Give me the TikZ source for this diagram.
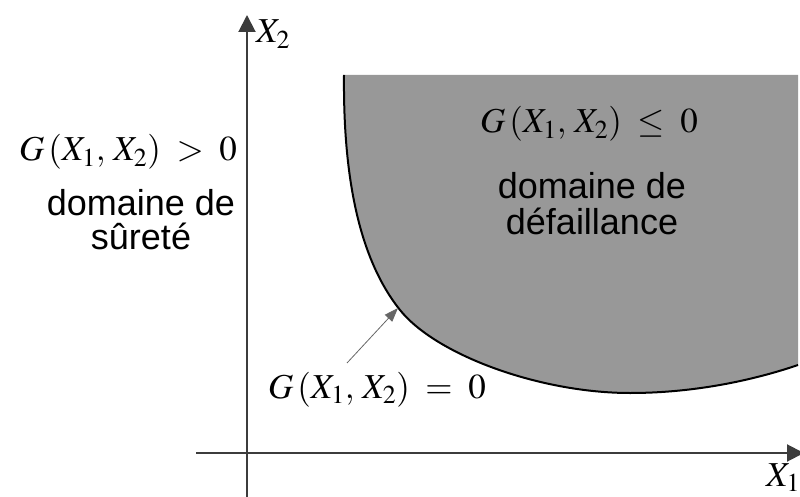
\documentclass[tikz,border=0pt]{standalone}
\usepackage{fontspec}
\usepackage{mathptmx}
\newfontfamily\arialfont{Liberation Sans}
\usetikzlibrary{arrows.meta}
\definecolor{fail}{RGB}{152,152,152}
\definecolor{axis}{RGB}{60,60,60}
\tikzset{
  mathlbl/.style={inner sep=0pt, font=\fontsize{35}{38}\selectfont},
  sanslbl/.style={inner sep=0pt, align=center},
  axisline/.style={draw=axis, line width=2pt},
  bigtip/.style={-{Triangle[length=17pt,width=17pt]}},
}
\newcommand{\limitcurve}{(344,75) .. controls (343,180) and (360,260) .. (400,310) .. controls (436,355) and (540,393) .. (630,393) .. controls (700,393) and (760,378) .. (798,365)}
\begin{document}
\begin{tikzpicture}[x=1pt,y=-1pt]
\useasboundingbox (0,0) rectangle (800,497);
% failure domain
\fill[fail] \limitcurve -- (798,75) -- cycle;
\draw[black, line width=2pt] \limitcurve;
% axes
\coordinate (yb) at (247,497);
\coordinate (yt) at (247,15);
\coordinate (xl) at (196,453);
\coordinate (xr) at (804,453);
\draw[axisline, bigtip] (yb) -- (yt);
\draw[axisline, bigtip] (xl) -- (xr);
\node[mathlbl, anchor=base west] (x2) at (256,43) {$X_2$};
\node[mathlbl, anchor=base west] (x1) at (766,486) {$X_1$};
% labels
\node[mathlbl, anchor=base] (gpos) at (128,161) {$G\,(X_1,\,X_2)\;>\;0$};
\node[sanslbl, font=\arialfont\fontsize{36}{34}\selectfont, anchor=base] (safe) at (141,249) {domaine de\\sûreté};
\node[mathlbl, anchor=base] (gneg) at (589,133) {$G\,(X_1,\,X_2)\;\leq\;0$};
\node[sanslbl, font=\arialfont\fontsize{36}{36}\selectfont, anchor=base] (fail) at (592,234) {domaine de\\défaillance};
\node[mathlbl, anchor=base] (gzero) at (377,398) {$G\,(X_1,\,X_2)\;=\;0$};
\coordinate (atail) at (347,363);
\coordinate (atip) at (398,308);
\draw[gray!80!black, line width=0.8pt, -{Triangle[length=14pt,width=10pt]}] (atail) -- (atip);
\end{tikzpicture}
\end{document}
